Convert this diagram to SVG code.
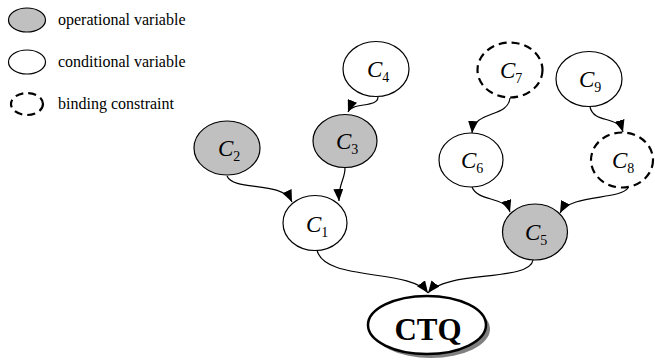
<svg xmlns="http://www.w3.org/2000/svg" width="655" height="364" viewBox="0 0 655 364">
<defs>
<marker id="ah" viewBox="0 0 12 10" refX="12" refY="5" markerWidth="12" markerHeight="10" markerUnits="userSpaceOnUse" orient="auto">
<path d="M0,0 L12,5 L0,10 z" fill="#000"/>
</marker>
</defs>
<rect width="655" height="364" fill="#fff"/>
<g id="legend" stroke="#000" stroke-width="1.2">
<ellipse fill="#c0c0c0" cx="27" cy="20" rx="18.5" ry="12"/>
<ellipse fill="#fff" cx="27" cy="62" rx="18.5" ry="12"/>
<ellipse fill="#fff" stroke-width="2.2" stroke-dasharray="8,5" cx="27" cy="104" rx="16" ry="11"/>
<g stroke="none" fill="#000" style="font-family:'Liberation Serif',serif" font-size="16">
<text x="58" y="25">operational variable</text>
<text x="58" y="67">conditional variable</text>
<text x="58" y="109">binding constraint</text>
</g>
</g>
<g id="connectors" fill="none" stroke="#000" stroke-width="1.2" marker-end="url(#ah)">
<path d="M378,97 C378,108 352,102 348,112"/>
<path d="M345,168 C345,180 338,184 339,201"/>
<path d="M227,176 C234,192 282,180 292,202"/>
<path d="M510,98 C508,118 474,110 472,133"/>
<path d="M590,107 C594,124 618,115 623,132"/>
<path d="M472,187 C478,202 505,196 510,212"/>
<path d="M628,188 C620,200 570,194 560,213"/>
<path d="M317,250 C324,282 410,268 428,293"/>
<path d="M533,260 C530,282 446,270 428,293"/>
</g>
<g style="font-family:'Liberation Serif',serif" font-size="23" font-style="italic" stroke-width="1.2">
<g id="C4"><ellipse fill="#fff" stroke="#000" cx="376" cy="69" rx="33" ry="27.5"/><text x="367" y="77">C<tspan font-size="14" font-style="normal" dy="5">4</tspan></text></g>
<g id="C3"><ellipse fill="#c0c0c0" stroke="#000" cx="345" cy="141" rx="32" ry="26.5"/><text x="336" y="149">C<tspan font-size="14" font-style="normal" dy="5">3</tspan></text></g>
<g id="C2"><ellipse fill="#c0c0c0" stroke="#000" cx="227" cy="148" rx="33" ry="27"/><text x="218" y="156">C<tspan font-size="14" font-style="normal" dy="5">2</tspan></text></g>
<g id="C1"><ellipse fill="#fff" stroke="#000" cx="315" cy="223" rx="32" ry="27.5"/><text x="306" y="232">C<tspan font-size="14" font-style="normal" dy="5">1</tspan></text></g>
<g id="C7"><ellipse fill="#fff" stroke="#000" stroke-width="2.2" stroke-dasharray="8,5" cx="510" cy="70" rx="32.5" ry="27.5"/><text x="500" y="78">C<tspan font-size="14" font-style="normal" dy="5">7</tspan></text></g>
<g id="C9"><ellipse fill="#fff" stroke="#000" cx="589" cy="79" rx="33" ry="27.5"/><text x="579" y="87">C<tspan font-size="14" font-style="normal" dy="5">9</tspan></text></g>
<g id="C6"><ellipse fill="#fff" stroke="#000" cx="471" cy="160" rx="32" ry="27"/><text x="461" y="168">C<tspan font-size="14" font-style="normal" dy="5">6</tspan></text></g>
<g id="C8"><ellipse fill="#fff" stroke="#000" stroke-width="2.2" stroke-dasharray="8,5" cx="622" cy="160" rx="31" ry="27.5"/><text x="612" y="168">C<tspan font-size="14" font-style="normal" dy="5">8</tspan></text></g>
<g id="C5"><ellipse fill="#c0c0c0" stroke="#000" cx="535" cy="232" rx="32.5" ry="28"/><text x="525" y="240">C<tspan font-size="14" font-style="normal" dy="5">5</tspan></text></g>
</g>
<g id="CTQ">
<ellipse cx="431" cy="329" rx="59" ry="29" fill="#808080"/>
<ellipse cx="427" cy="325" rx="59" ry="29" fill="#fff" stroke="#000" stroke-width="2.5"/>
<text x="428" y="340" text-anchor="middle" style="font-family:'Liberation Serif',serif" font-weight="bold" font-size="31">CTQ</text>
</g>
</svg>
